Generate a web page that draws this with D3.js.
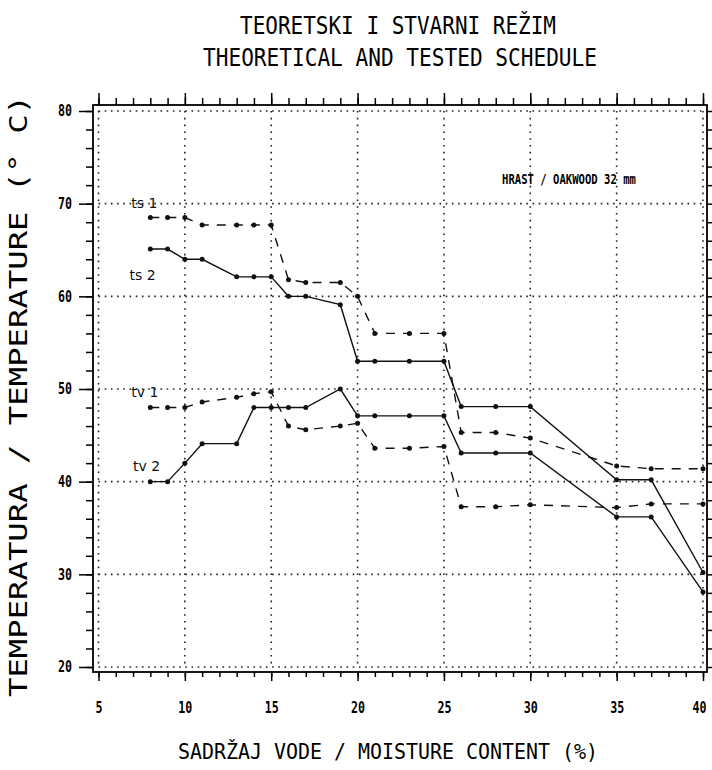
<!DOCTYPE html>
<html>
<head>
<meta charset="utf-8">
<script src="https://cdn.jsdelivr.net/npm/d3@7"></script>
<style>
  body { margin: 0; background: #fff; }
  svg { display: block; }
</style>
</head>
<body>
<div id="chart"></div>
<script>
// Podaci (sadrzaj vode % -> temperatura °C)

let moisture = [8, 9, 10, 11, 13, 14, 15, 16, 17, 19, 20, 21, 23, 25, 26, 28, 30, 35, 37, 40];

let ts1 = [68.5, 68.5, 68.5, 67.7, 67.7, 67.7, 67.7, 61.8, 61.5, 61.5, 60, 56, 56, 56, 45.3, 45.3, 44.7, 41.7, 41.4, 41.4];
let ts2 = [65.1, 65.1, 64, 64, 62.1, 62.1, 62.1, 60, 60, 59.1, 53, 53, 53, 53, 48.1, 48.1, 48.1, 40.2, 40.2, 30.2];
let tv1 = [48, 48, 48, 48.6, 49.1, 49.5, 49.7, 46, 45.6, 46, 46.3, 43.6, 43.6, 43.8, 37.3, 37.3, 37.5, 37.2, 37.6, 37.6];
let tv2 = [40, 40, 42, 44.1, 44.1, 48, 48, 48, 48, 50, 47.1, 47.1, 47.1, 47.1, 43.1, 43.1, 43.1, 36.2, 36.2, 28.1];

let series_names = ['ts 1', 'ts 2', 'tv 1', 'tv 2'];
let series_dashed = [true, false, true, false];
let label_x = [6.9, 6.8, 6.9, 7.0];
let label_y = [69.5, 61.8, 49.1, 41.1];

let x_ticks = [5, 10, 15, 20, 25, 30, 35, 40];
let y_ticks = [20, 30, 40, 50, 60, 70, 80];

// Platno

let width = 712;
let height = 770;

let svg = d3.select('#chart')
    .append('svg')
    .attr('width', width)
    .attr('height', height);

let x = d3.scaleLinear().domain([5, 40]).range([98.5, 703]);
let y = d3.scaleLinear().domain([20, 80]).range([667, 111]);

// okvir je malo izvan podrucja podataka
let frame = {left: 93, right: 707, top: 105, bottom: 672};

let mono = "'DejaVu Sans Mono', monospace";

// Mreza (tockice)

svg.append('g')
    .selectAll('line')
    .data(x_ticks)
    .enter()
    .append('line')
    .attr('x1', d => x(d)).attr('x2', d => x(d))
    .attr('y1', y(80)).attr('y2', y(20))
    .attr('stroke', '#222')
    .attr('stroke-width', 1.6)
    .attr('stroke-dasharray', '1.6,5.2');

svg.append('g')
    .selectAll('line')
    .data(y_ticks)
    .enter()
    .append('line')
    .attr('y1', d => y(d)).attr('y2', d => y(d))
    .attr('x1', x(5)).attr('x2', x(40))
    .attr('stroke', '#222')
    .attr('stroke-width', 1.6)
    .attr('stroke-dasharray', '1.6,4.6');

// Osi

let minor_x = d3.range(5, 41, 1);
let minor_y = d3.range(20, 81, 2);

let style_axis = g => {
    g.select('.domain').remove();
    g.selectAll('line').attr('stroke', '#000').attr('stroke-width', 1.5);
};

let style_labels = g => g.selectAll('text')
    .attr('font-family', mono)
    .attr('font-weight', 'bold')
    .attr('font-size', 15)
    .attr('textLength', d => String(d).length * 7)
    .attr('lengthAdjust', 'spacingAndGlyphs')
    .attr('fill', '#000');

// lijeva os
svg.append('g')
    .attr('transform', `translate(${frame.left},0)`)
    .call(d3.axisLeft(y).tickValues(minor_y).tickSize(7).tickFormat(''))
    .call(style_axis);

svg.append('g')
    .attr('transform', `translate(${frame.left},0)`)
    .call(d3.axisLeft(y).tickValues(y_ticks).tickSize(14).tickPadding(7).tickFormat(d3.format('d')))
    .call(style_axis)
    .call(style_labels);

// desna os
svg.append('g')
    .attr('transform', `translate(${frame.right},0)`)
    .call(d3.axisRight(y).tickValues(minor_y).tickSize(5).tickFormat(''))
    .call(style_axis);

// gornja os
svg.append('g')
    .attr('transform', `translate(0,${frame.top})`)
    .call(d3.axisTop(x).tickValues(minor_x).tickSize(7).tickFormat(''))
    .call(style_axis);

svg.append('g')
    .attr('transform', `translate(0,${frame.top})`)
    .call(d3.axisTop(x).tickValues(x_ticks).tickSize(12).tickFormat(''))
    .call(style_axis);

// donja os
svg.append('g')
    .attr('transform', `translate(0,${frame.bottom})`)
    .call(d3.axisBottom(x).tickValues(minor_x).tickSize(5).tickFormat(''))
    .call(style_axis);

svg.append('g')
    .attr('transform', `translate(0,${frame.bottom})`)
    .call(d3.axisBottom(x).tickValues(x_ticks).tickSize(9).tickPadding(21).tickFormat(d3.format('d')))
    .call(style_axis)
    .call(style_labels)
    .call(g => g.selectAll('text').filter(d => d === 40).attr('dx', -4));

// okvir
svg.append('rect')
    .attr('x', frame.left)
    .attr('y', frame.top)
    .attr('width', frame.right - frame.left)
    .attr('height', frame.bottom - frame.top)
    .attr('fill', 'none')
    .attr('stroke', '#000')
    .attr('stroke-width', 1.8);

// Linije

let all_series = [ts1, ts2, tv1, tv2];

let line = d3.line()
    .x((d, i) => x(moisture[i]))
    .y(d => y(d));

all_series.forEach((s, k) => {
    svg.append('path')
        .datum(s)
        .attr('d', line)
        .attr('fill', 'none')
        .attr('stroke', '#111')
        .attr('stroke-width', 1.4)
        .attr('stroke-dasharray', series_dashed[k] ? '9,8' : null);

    svg.append('g')
        .selectAll('circle')
        .data(s)
        .enter()
        .append('circle')
        .attr('cx', (d, i) => x(moisture[i]))
        .attr('cy', d => y(d))
        .attr('r', 2.5)
        .attr('fill', '#111');

    svg.append('text')
        .text(series_names[k])
        .attr('x', x(label_x[k]))
        .attr('y', y(label_y[k]))
        .attr('font-family', "'DejaVu Sans', sans-serif")
        .attr('font-size', 14)
        .attr('fill', '#111');
});

// Natpisi

svg.append('text')
    .text('HRAST / OAKWOOD 32 mm')
    .attr('x', 502)
    .attr('y', 184)
    .attr('textLength', 134)
    .attr('lengthAdjust', 'spacingAndGlyphs')
    .attr('font-family', mono)
    .attr('font-weight', 'bold')
    .attr('font-size', 14)
    .attr('fill', '#000');

svg.append('text')
    .text('TEORETSKI I STVARNI REŽIM')
    .attr('x', 240)
    .attr('y', 34)
    .attr('textLength', 316)
    .attr('lengthAdjust', 'spacingAndGlyphs')
    .attr('font-family', mono)
    .attr('font-size', 24)
    .attr('fill', '#000');

svg.append('text')
    .text('THEORETICAL AND TESTED SCHEDULE')
    .attr('x', 203)
    .attr('y', 66)
    .attr('textLength', 394)
    .attr('lengthAdjust', 'spacingAndGlyphs')
    .attr('font-family', mono)
    .attr('font-size', 24)
    .attr('fill', '#000');

svg.append('text')
    .text('SADRŽAJ VODE / MOISTURE CONTENT (%)')
    .attr('x', 178)
    .attr('y', 759)
    .attr('textLength', 420)
    .attr('lengthAdjust', 'spacingAndGlyphs')
    .attr('font-family', mono)
    .attr('font-size', 22)
    .attr('fill', '#000');

svg.append('text')
    .text('TEMPERATURA / TEMPERATURE (° C)')
    .attr('transform', 'translate(27,697) rotate(-90)')
    .attr('textLength', 602)
    .attr('lengthAdjust', 'spacingAndGlyphs')
    .attr('font-family', mono)
    .attr('font-size', 25)
    .attr('fill', '#000');
</script>
</body>
</html>
